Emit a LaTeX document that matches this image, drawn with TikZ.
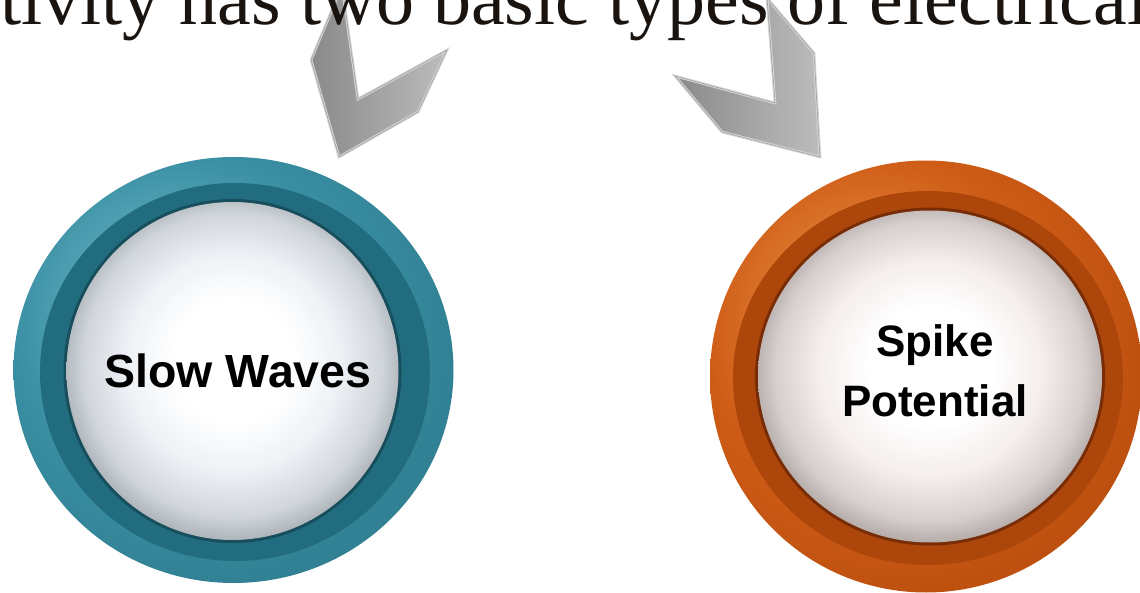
\documentclass[tikz,border=0pt]{standalone}
\usepackage{fontspec}
\setmainfont{Liberation Serif}
\newfontfamily\labelfont{Liberation Sans}
\definecolor{tealhi}{RGB}{110,186,202}
\definecolor{tealmain}{RGB}{58,142,162}
\definecolor{tealdark}{RGB}{38,112,130}
\definecolor{tealband}{RGB}{33,108,126}
\definecolor{tealshadow}{RGB}{22,78,92}
\definecolor{orhi}{RGB}{236,146,70}
\definecolor{ormain}{RGB}{206,92,22}
\definecolor{ordark}{RGB}{170,66,8}
\definecolor{orband}{RGB}{172,70,10}
\definecolor{orshadow}{RGB}{120,44,6}
\definecolor{sphLa}{RGB}{238,242,246}
\definecolor{sphLb}{RGB}{208,213,218}
\definecolor{sphLc}{RGB}{160,166,172}
\definecolor{sphRa}{RGB}{245,239,237}
\definecolor{sphRb}{RGB}{214,207,205}
\definecolor{sphRc}{RGB}{168,158,156}
\definecolor{chevdark}{RGB}{138,138,138}
\definecolor{chevlight}{RGB}{188,188,188}
\definecolor{chevbevel}{RGB}{214,214,214}
\definecolor{titleink}{RGB}{26,20,16}
\pgfdeclareradialshading{tealring}{\pgfpoint{-9bp}{9bp}}{color(0bp)=(tealhi); color(20bp)=(tealmain); color(42bp)=(tealdark); color(55bp)=(tealdark)}
\pgfdeclareradialshading{orring}{\pgfpoint{-9bp}{9bp}}{color(0bp)=(orhi); color(20bp)=(ormain); color(42bp)=(ordark); color(55bp)=(ordark)}
\pgfdeclareradialshading{sphL}{\pgfpoint{0bp}{2bp}}{color(0bp)=(white); color(9bp)=(white); color(16bp)=(sphLa); color(22.5bp)=(sphLb); color(27bp)=(sphLc); color(40bp)=(sphLc)}
\pgfdeclareradialshading{sphR}{\pgfpoint{0bp}{2bp}}{color(0bp)=(white); color(9bp)=(white); color(16bp)=(sphRa); color(22.5bp)=(sphRb); color(27bp)=(sphRc); color(40bp)=(sphRc)}
\tikzset{
  chevfill/.style={left color=chevdark, right color=chevlight},
  chevedge/.style={draw=chevbevel, line width=2.6, line join=miter},
  chevline/.style={draw=gray!75, line width=0.6, line join=miter},
  label/.style={inner sep=0pt, font=\labelfont\bfseries, text=black},
}
\begin{document}
\begin{tikzpicture}[x=1pt,y=-1pt]
\useasboundingbox (0,0) rectangle (1140,593);
\fill[white] (0,0) rectangle (1140,593);
\clip (0,0) rectangle (1140,593);
% chevrons
\shade[chevfill] (342,-14) -- (311,60) -- (339,157) -- (418,112) -- (447,50) -- (358,99) -- cycle;
\path[chevedge] (342,-14) -- (311,60) -- (339,157) -- (418,112) -- (447,50) -- (358,99) -- cycle;
\path[chevline] (342,-14) -- (311,60) -- (339,157) -- (418,112) -- (447,50) -- (358,99) -- cycle;
\shade[chevfill] (767,-2) -- (814,53) -- (820,157) -- (722,132) -- (675,76) -- (775,103) -- cycle;
\path[chevedge] (767,-2) -- (814,53) -- (820,157) -- (722,132) -- (675,76) -- (775,103) -- cycle;
\path[chevline] (767,-2) -- (814,53) -- (820,157) -- (722,132) -- (675,76) -- (775,103) -- cycle;
% title line
\node[anchor=base west, inner sep=0pt, text=titleink, font=\fontsize{76}{80}\selectfont] (title) at (0,25) {tivity has two basic types of electrical};
% left ring
\shade[shading=tealring] (233.5,370) ellipse [x radius=220, y radius=213];
\fill[tealband] (235,372) ellipse [x radius=195, y radius=189];
\fill[tealshadow] (232.5,371) ellipse [x radius=169, y radius=172];
\shade[shading=sphL] (232.5,371) ellipse [x radius=166, y radius=169];
\node[label, anchor=base, font=\labelfont\bfseries\fontsize{46.5}{56}\selectfont] (slow) at (238,387) {Slow Waves};
% right ring
\shade[shading=orring] (926,376.5) ellipse [x radius=216, y radius=216];
\fill[orband] (928,378) ellipse [x radius=195, y radius=187];
\fill[orshadow] (930,376.5) ellipse [x radius=175, y radius=169];
\shade[shading=sphR] (930,376.5) ellipse [x radius=172, y radius=166];
\node[label, align=center, anchor=center, font=\labelfont\bfseries\fontsize{44}{60}\selectfont] (spike) at (935,371) {Spike\\Potential};
\end{tikzpicture}
\end{document}
